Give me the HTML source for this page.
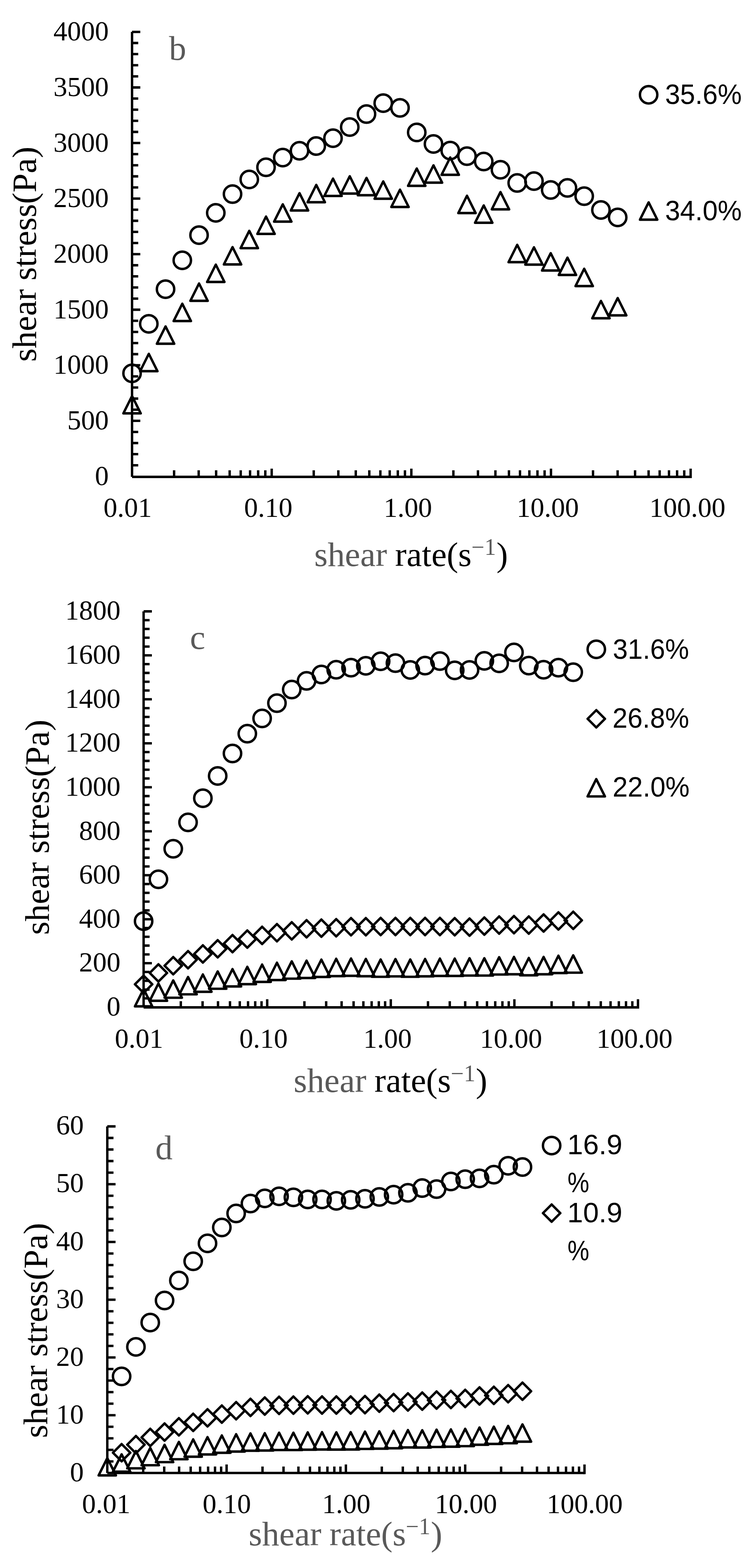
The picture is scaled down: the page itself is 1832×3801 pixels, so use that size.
<!DOCTYPE html>
<html><head><meta charset="utf-8"><title>shear stress vs shear rate</title>
<style>html,body{margin:0;padding:0;background:#fff;}svg{display:block;}</style></head>
<body>
<svg width="1832" height="3801" viewBox="0 0 1832 3801"><g fill="none" stroke="#000" stroke-width="5.8"><path d="M320 77.3V1156M320 1156H1673.6" /><path d="M320 1127.86h15M320 1100.92h15M320 1073.99h15M320 1047.05h15M320 1020.11h20M320 993.17h15M320 966.24h15M320 939.3h15M320 912.36h15M320 885.42h20M320 858.49h15M320 831.55h15M320 804.61h15M320 777.67h15M320 750.74h20M320 723.8h15M320 696.86h15M320 669.92h15M320 642.99h15M320 616.05h20M320 589.11h15M320 562.17h15M320 535.24h15M320 508.3h15M320 481.36h20M320 454.43h15M320 427.49h15M320 400.55h15M320 373.61h15M320 346.68h20M320 319.74h15M320 292.8h15M320 265.86h15M320 238.93h15M320 211.99h20M320 185.05h15M320 158.11h15M320 131.18h15M320 104.24h15M320 77.3h20M421.87 1156v-16M481.46 1156v-16M523.74 1156v-16M556.53 1156v-16M583.33 1156v-16M605.98 1156v-16M625.61 1156v-16M642.92 1156v-16M658.4 1156v-20M760.27 1156v-16M819.86 1156v-16M862.14 1156v-16M894.93 1156v-16M921.73 1156v-16M944.38 1156v-16M964.01 1156v-16M981.32 1156v-16M996.8 1156v-20M1098.67 1156v-16M1158.26 1156v-16M1200.54 1156v-16M1233.33 1156v-16M1260.13 1156v-16M1282.78 1156v-16M1302.41 1156v-16M1319.72 1156v-16M1335.2 1156v-20M1437.07 1156v-16M1496.66 1156v-16M1538.94 1156v-16M1571.73 1156v-16M1598.53 1156v-16M1621.18 1156v-16M1640.81 1156v-16M1658.12 1156v-16M1673.6 1158.9v-22.9"/><path d="M348 1482V2442M348 2442H1546" /><path d="M348 2420.18h14.5M348 2398.86h14.5M348 2377.53h14.5M348 2356.21h14.5M348 2334.89h20M348 2313.57h14.5M348 2292.24h14.5M348 2270.92h14.5M348 2249.6h14.5M348 2228.28h20M348 2206.96h14.5M348 2185.63h14.5M348 2164.31h14.5M348 2142.99h14.5M348 2121.67h20M348 2100.34h14.5M348 2079.02h14.5M348 2057.7h14.5M348 2036.38h14.5M348 2015.06h20M348 1993.73h14.5M348 1972.41h14.5M348 1951.09h14.5M348 1929.77h14.5M348 1908.44h20M348 1887.12h14.5M348 1865.8h14.5M348 1844.48h14.5M348 1823.16h14.5M348 1801.83h20M348 1780.51h14.5M348 1759.19h14.5M348 1737.87h14.5M348 1716.54h14.5M348 1695.22h20M348 1673.9h14.5M348 1652.58h14.5M348 1631.26h14.5M348 1609.93h14.5M348 1588.61h20M348 1567.29h14.5M348 1545.97h14.5M348 1524.64h14.5M348 1503.32h14.5M348 1482h20M438.16 2442v-15M490.9 2442v-15M528.32 2442v-15M557.34 2442v-15M581.06 2442v-15M601.11 2442v-15M618.48 2442v-15M633.8 2442v-15M647.5 2442v-19.7M737.66 2442v-15M790.4 2442v-15M827.82 2442v-15M856.84 2442v-15M880.56 2442v-15M900.61 2442v-15M917.98 2442v-15M933.3 2442v-15M947 2442v-19.7M1037.16 2442v-15M1089.9 2442v-15M1127.32 2442v-15M1156.34 2442v-15M1180.06 2442v-15M1200.11 2442v-15M1217.48 2442v-15M1232.8 2442v-15M1246.5 2442v-19.7M1336.66 2442v-15M1389.4 2442v-15M1426.82 2442v-15M1455.84 2442v-15M1479.56 2442v-15M1499.61 2442v-15M1516.98 2442v-15M1532.3 2442v-15M1546 2444.9v-22.6"/><path d="M260 2730.5V3570.7M260 3570.7H1416.4" /><path d="M260 3542.69h15M260 3514.69h15M260 3486.68h15M260 3458.67h15M260 3430.67h20M260 3402.66h15M260 3374.65h15M260 3346.65h15M260 3318.64h15M260 3290.63h20M260 3262.63h15M260 3234.62h15M260 3206.61h15M260 3178.61h15M260 3150.6h20M260 3122.59h15M260 3094.59h15M260 3066.58h15M260 3038.57h15M260 3010.57h20M260 2982.56h15M260 2954.55h15M260 2926.55h15M260 2898.54h15M260 2870.53h20M260 2842.53h15M260 2814.52h15M260 2786.51h15M260 2758.51h15M260 2730.5h20M347.03 3570.7v-15.8M397.94 3570.7v-15.8M434.06 3570.7v-15.8M462.07 3570.7v-15.8M484.96 3570.7v-15.8M504.32 3570.7v-15.8M521.08 3570.7v-15.8M535.87 3570.7v-15.8M549.1 3570.7v-20.8M636.13 3570.7v-15.8M687.04 3570.7v-15.8M723.16 3570.7v-15.8M751.17 3570.7v-15.8M774.06 3570.7v-15.8M793.42 3570.7v-15.8M810.18 3570.7v-15.8M824.97 3570.7v-15.8M838.2 3570.7v-20.8M925.23 3570.7v-15.8M976.14 3570.7v-15.8M1012.26 3570.7v-15.8M1040.27 3570.7v-15.8M1063.16 3570.7v-15.8M1082.52 3570.7v-15.8M1099.28 3570.7v-15.8M1114.07 3570.7v-15.8M1127.3 3570.7v-20.8M1214.33 3570.7v-15.8M1265.24 3570.7v-15.8M1301.36 3570.7v-15.8M1329.37 3570.7v-15.8M1352.26 3570.7v-15.8M1371.62 3570.7v-15.8M1388.38 3570.7v-15.8M1403.17 3570.7v-15.8M1416.4 3573.6v-23.7"/></g>
<g fill="none" stroke="#000" stroke-width="5.9" stroke-linejoin="round"><circle cx="320" cy="905" r="21.05"/><circle cx="360.58" cy="785" r="21.05"/><circle cx="401.16" cy="701" r="21.05"/><circle cx="441.74" cy="631" r="21.05"/><circle cx="482.32" cy="570" r="21.05"/><circle cx="522.9" cy="516" r="21.05"/><circle cx="563.48" cy="470.5" r="21.05"/><circle cx="604.06" cy="435" r="21.05"/><circle cx="644.64" cy="405.5" r="21.05"/><circle cx="685.22" cy="382" r="21.05"/><circle cx="725.8" cy="365.5" r="21.05"/><circle cx="766.38" cy="354" r="21.05"/><circle cx="806.96" cy="335" r="21.05"/><circle cx="847.54" cy="308" r="21.05"/><circle cx="888.12" cy="276.5" r="21.05"/><circle cx="928.7" cy="250" r="21.05"/><circle cx="969.28" cy="261.5" r="21.05"/><circle cx="1009.86" cy="321" r="21.05"/><circle cx="1050.44" cy="349" r="21.05"/><circle cx="1091.02" cy="365" r="21.05"/><circle cx="1131.6" cy="378.5" r="21.05"/><circle cx="1172.18" cy="391.5" r="21.05"/><circle cx="1212.76" cy="411.5" r="21.05"/><circle cx="1253.34" cy="443.5" r="21.05"/><circle cx="1293.92" cy="439" r="21.05"/><circle cx="1334.5" cy="460.5" r="21.05"/><circle cx="1375.08" cy="455.5" r="21.05"/><circle cx="1415.66" cy="475.5" r="21.05"/><circle cx="1456.24" cy="509" r="21.05"/><circle cx="1496.82" cy="527" r="21.05"/><path d="M320 960L341 1002H299Z"/><path d="M360.58 857.75L381.58 899.75H339.58Z"/><path d="M401.16 791.25L422.16 833.25H380.16Z"/><path d="M441.74 736.25L462.74 778.25H420.74Z"/><path d="M482.32 687.25L503.32 729.25H461.32Z"/><path d="M522.9 641.5L543.9 683.5H501.9Z"/><path d="M563.48 599L584.48 641H542.48Z"/><path d="M604.06 559.6L625.06 601.6H583.06Z"/><path d="M644.64 525L665.64 567H623.64Z"/><path d="M685.22 495.25L706.22 537.25H664.22Z"/><path d="M725.8 468.25L746.8 510.25H704.8Z"/><path d="M766.38 448.25L787.38 490.25H745.38Z"/><path d="M806.96 433L827.96 475H785.96Z"/><path d="M847.54 427.25L868.54 469.25H826.54Z"/><path d="M888.12 431.25L909.12 473.25H867.12Z"/><path d="M928.7 439.75L949.7 481.75H907.7Z"/><path d="M969.28 459.75L990.28 501.75H948.28Z"/><path d="M1009.86 408.5L1030.86 450.5H988.86Z"/><path d="M1050.44 400.75L1071.44 442.75H1029.44Z"/><path d="M1091.02 381.75L1112.02 423.75H1070.02Z"/><path d="M1131.6 474.5L1152.6 516.5H1110.6Z"/><path d="M1172.18 498L1193.18 540H1151.18Z"/><path d="M1212.76 465.5L1233.76 507.5H1191.76Z"/><path d="M1253.34 593.5L1274.34 635.5H1232.34Z"/><path d="M1293.92 599.5L1314.92 641.5H1272.92Z"/><path d="M1334.5 613.75L1355.5 655.75H1313.5Z"/><path d="M1375.08 624.5L1396.08 666.5H1354.08Z"/><path d="M1415.66 651.5L1436.66 693.5H1394.66Z"/><path d="M1456.24 729.5L1477.24 771.5H1435.24Z"/><path d="M1496.82 722.5L1517.82 764.5H1475.82Z"/><circle cx="348" cy="2233" r="21.05"/><circle cx="383.9" cy="2131.5" r="21.05"/><circle cx="419.8" cy="2057.5" r="21.05"/><circle cx="455.7" cy="1993.5" r="21.05"/><circle cx="491.6" cy="1935" r="21.05"/><circle cx="527.5" cy="1881" r="21.05"/><circle cx="563.4" cy="1826.5" r="21.05"/><circle cx="599.3" cy="1778.5" r="21.05"/><circle cx="635.2" cy="1741.5" r="21.05"/><circle cx="671.1" cy="1704.5" r="21.05"/><circle cx="707" cy="1671.5" r="21.05"/><circle cx="742.9" cy="1650.5" r="21.05"/><circle cx="778.8" cy="1635" r="21.05"/><circle cx="814.7" cy="1623.5" r="21.05"/><circle cx="850.6" cy="1618.5" r="21.05"/><circle cx="886.5" cy="1614" r="21.05"/><circle cx="922.4" cy="1603" r="21.05"/><circle cx="958.3" cy="1607.5" r="21.05"/><circle cx="994.2" cy="1624" r="21.05"/><circle cx="1030.1" cy="1613.5" r="21.05"/><circle cx="1066" cy="1602.5" r="21.05"/><circle cx="1101.9" cy="1625" r="21.05"/><circle cx="1137.8" cy="1624" r="21.05"/><circle cx="1173.7" cy="1602" r="21.05"/><circle cx="1209.6" cy="1608" r="21.05"/><circle cx="1245.5" cy="1581.5" r="21.05"/><circle cx="1281.4" cy="1613.5" r="21.05"/><circle cx="1317.3" cy="1623.5" r="21.05"/><circle cx="1353.2" cy="1618.5" r="21.05"/><circle cx="1389.1" cy="1629.5" r="21.05"/><path d="M348 2365L369 2386L348 2407L327 2386Z"/><path d="M383.9 2337.5L404.9 2358.5L383.9 2379.5L362.9 2358.5Z"/><path d="M419.8 2320L440.8 2341L419.8 2362L398.8 2341Z"/><path d="M455.7 2305.5L476.7 2326.5L455.7 2347.5L434.7 2326.5Z"/><path d="M491.6 2291.5L512.6 2312.5L491.6 2333.5L470.6 2312.5Z"/><path d="M527.5 2279L548.5 2300L527.5 2321L506.5 2300Z"/><path d="M563.4 2266.5L584.4 2287.5L563.4 2308.5L542.4 2287.5Z"/><path d="M599.3 2255.5L620.3 2276.5L599.3 2297.5L578.3 2276.5Z"/><path d="M635.2 2246.5L656.2 2267.5L635.2 2288.5L614.2 2267.5Z"/><path d="M671.1 2240L692.1 2261L671.1 2282L650.1 2261Z"/><path d="M707 2235.5L728 2256.5L707 2277.5L686 2256.5Z"/><path d="M742.9 2230.5L763.9 2251.5L742.9 2272.5L721.9 2251.5Z"/><path d="M778.8 2229L799.8 2250L778.8 2271L757.8 2250Z"/><path d="M814.7 2228L835.7 2249L814.7 2270L793.7 2249Z"/><path d="M850.6 2225.5L871.6 2246.5L850.6 2267.5L829.6 2246.5Z"/><path d="M886.5 2225.5L907.5 2246.5L886.5 2267.5L865.5 2246.5Z"/><path d="M922.4 2225L943.4 2246L922.4 2267L901.4 2246Z"/><path d="M958.3 2225L979.3 2246L958.3 2267L937.3 2246Z"/><path d="M994.2 2225L1015.2 2246L994.2 2267L973.2 2246Z"/><path d="M1030.1 2225L1051.1 2246L1030.1 2267L1009.1 2246Z"/><path d="M1066 2225L1087 2246L1066 2267L1045 2246Z"/><path d="M1101.9 2225.5L1122.9 2246.5L1101.9 2267.5L1080.9 2246.5Z"/><path d="M1137.8 2226.5L1158.8 2247.5L1137.8 2268.5L1116.8 2247.5Z"/><path d="M1173.7 2224L1194.7 2245L1173.7 2266L1152.7 2245Z"/><path d="M1209.6 2221.5L1230.6 2242.5L1209.6 2263.5L1188.6 2242.5Z"/><path d="M1245.5 2220.5L1266.5 2241.5L1245.5 2262.5L1224.5 2241.5Z"/><path d="M1281.4 2221.5L1302.4 2242.5L1281.4 2263.5L1260.4 2242.5Z"/><path d="M1317.3 2216.5L1338.3 2237.5L1317.3 2258.5L1296.3 2237.5Z"/><path d="M1353.2 2211.5L1374.2 2232.5L1353.2 2253.5L1332.2 2232.5Z"/><path d="M1389.1 2210L1410.1 2231L1389.1 2252L1368.1 2231Z"/><path d="M348 2397.5L369 2439.5H327Z"/><path d="M383.9 2384L404.9 2426H362.9Z"/><path d="M419.8 2376.6L440.8 2418.6H398.8Z"/><path d="M455.7 2368.4L476.7 2410.4H434.7Z"/><path d="M491.6 2362.2L512.6 2404.2H470.6Z"/><path d="M527.5 2354.9L548.5 2396.9H506.5Z"/><path d="M563.4 2349.2L584.4 2391.2H542.4Z"/><path d="M599.3 2343.7L620.3 2385.7H578.3Z"/><path d="M635.2 2338.2L656.2 2380.2H614.2Z"/><path d="M671.1 2333.7L692.1 2375.7H650.1Z"/><path d="M707 2330.4L728 2372.4H686Z"/><path d="M742.9 2328.7L763.9 2370.7H721.9Z"/><path d="M778.8 2326.2L799.8 2368.2H757.8Z"/><path d="M814.7 2324.2L835.7 2366.2H793.7Z"/><path d="M850.6 2323.5L871.6 2365.5H829.6Z"/><path d="M886.5 2324.5L907.5 2366.5H865.5Z"/><path d="M922.4 2325.9L943.4 2367.9H901.4Z"/><path d="M958.3 2324.9L979.3 2366.9H937.3Z"/><path d="M994.2 2325.9L1015.2 2367.9H973.2Z"/><path d="M1030.1 2324.7L1051.1 2366.7H1009.1Z"/><path d="M1066 2323.7L1087 2365.7H1045Z"/><path d="M1101.9 2323.7L1122.9 2365.7H1080.9Z"/><path d="M1137.8 2322.9L1158.8 2364.9H1116.8Z"/><path d="M1173.7 2322.9L1194.7 2364.9H1152.7Z"/><path d="M1209.6 2320.4L1230.6 2362.4H1188.6Z"/><path d="M1245.5 2319.7L1266.5 2361.7H1224.5Z"/><path d="M1281.4 2322.2L1302.4 2364.2H1260.4Z"/><path d="M1317.3 2319.7L1338.3 2361.7H1296.3Z"/><path d="M1353.2 2316.7L1374.2 2358.7H1332.2Z"/><path d="M1389.1 2315.9L1410.1 2357.9H1368.1Z"/><circle cx="294.69" cy="3336.5" r="21.05"/><circle cx="329.38" cy="3265" r="21.05"/><circle cx="364.08" cy="3206" r="21.05"/><circle cx="398.77" cy="3152.5" r="21.05"/><circle cx="433.46" cy="3104" r="21.05"/><circle cx="468.15" cy="3057.5" r="21.05"/><circle cx="502.84" cy="3014" r="21.05"/><circle cx="537.54" cy="2975.5" r="21.05"/><circle cx="572.23" cy="2941.5" r="21.05"/><circle cx="606.92" cy="2917.5" r="21.05"/><circle cx="641.61" cy="2905" r="21.05"/><circle cx="676.3" cy="2900" r="21.05"/><circle cx="711" cy="2902.5" r="21.05"/><circle cx="745.69" cy="2907.5" r="21.05"/><circle cx="780.38" cy="2907.5" r="21.05"/><circle cx="815.07" cy="2911" r="21.05"/><circle cx="849.76" cy="2908.5" r="21.05"/><circle cx="884.46" cy="2906" r="21.05"/><circle cx="919.15" cy="2901.5" r="21.05"/><circle cx="953.84" cy="2896" r="21.05"/><circle cx="988.53" cy="2891.5" r="21.05"/><circle cx="1023.22" cy="2880" r="21.05"/><circle cx="1057.92" cy="2882.5" r="21.05"/><circle cx="1092.61" cy="2864" r="21.05"/><circle cx="1127.3" cy="2858.5" r="21.05"/><circle cx="1161.99" cy="2856.5" r="21.05"/><circle cx="1196.68" cy="2847.5" r="21.05"/><circle cx="1231.38" cy="2826" r="21.05"/><circle cx="1266.07" cy="2829" r="21.05"/><path d="M294.69 3500.5L315.69 3521.5L294.69 3542.5L273.69 3521.5Z"/><path d="M329.38 3481L350.38 3502L329.38 3523L308.38 3502Z"/><path d="M364.08 3463.5L385.08 3484.5L364.08 3505.5L343.08 3484.5Z"/><path d="M398.77 3450.5L419.77 3471.5L398.77 3492.5L377.77 3471.5Z"/><path d="M433.46 3437.75L454.46 3458.75L433.46 3479.75L412.46 3458.75Z"/><path d="M468.15 3427L489.15 3448L468.15 3469L447.15 3448Z"/><path d="M502.84 3416L523.84 3437L502.84 3458L481.84 3437Z"/><path d="M537.54 3407L558.54 3428L537.54 3449L516.54 3428Z"/><path d="M572.23 3398.75L593.23 3419.75L572.23 3440.75L551.23 3419.75Z"/><path d="M606.92 3390.75L627.92 3411.75L606.92 3432.75L585.92 3411.75Z"/><path d="M641.61 3387.5L662.61 3408.5L641.61 3429.5L620.61 3408.5Z"/><path d="M676.3 3385.75L697.3 3406.75L676.3 3427.75L655.3 3406.75Z"/><path d="M711 3385.25L732 3406.25L711 3427.25L690 3406.25Z"/><path d="M745.69 3384.5L766.69 3405.5L745.69 3426.5L724.69 3405.5Z"/><path d="M780.38 3385L801.38 3406L780.38 3427L759.38 3406Z"/><path d="M815.07 3385L836.07 3406L815.07 3427L794.07 3406Z"/><path d="M849.76 3385L870.76 3406L849.76 3427L828.76 3406Z"/><path d="M884.46 3384L905.46 3405L884.46 3426L863.46 3405Z"/><path d="M919.15 3380.5L940.15 3401.5L919.15 3422.5L898.15 3401.5Z"/><path d="M953.84 3379L974.84 3400L953.84 3421L932.84 3400Z"/><path d="M988.53 3377.5L1009.53 3398.5L988.53 3419.5L967.53 3398.5Z"/><path d="M1023.22 3375.5L1044.22 3396.5L1023.22 3417.5L1002.22 3396.5Z"/><path d="M1057.92 3373L1078.92 3394L1057.92 3415L1036.92 3394Z"/><path d="M1092.61 3371.5L1113.61 3392.5L1092.61 3413.5L1071.61 3392.5Z"/><path d="M1127.3 3369L1148.3 3390L1127.3 3411L1106.3 3390Z"/><path d="M1161.99 3363L1182.99 3384L1161.99 3405L1140.99 3384Z"/><path d="M1196.68 3361.5L1217.68 3382.5L1196.68 3403.5L1175.68 3382.5Z"/><path d="M1231.38 3357.5L1252.38 3378.5L1231.38 3399.5L1210.38 3378.5Z"/><path d="M1266.07 3351.5L1287.07 3372.5L1266.07 3393.5L1245.07 3372.5Z"/><path d="M260 3534.5L281 3576.5H239Z"/><path d="M294.69 3525.4L315.69 3567.4H273.69Z"/><path d="M329.38 3517.4L350.38 3559.4H308.38Z"/><path d="M364.08 3509.9L385.08 3551.9H343.08Z"/><path d="M398.77 3502.4L419.77 3544.4H377.77Z"/><path d="M433.46 3495.4L454.46 3537.4H412.46Z"/><path d="M468.15 3489.2L489.15 3531.2H447.15Z"/><path d="M502.84 3483.7L523.84 3525.7H481.84Z"/><path d="M537.54 3479.7L558.54 3521.7H516.54Z"/><path d="M572.23 3476.7L593.23 3518.7H551.23Z"/><path d="M606.92 3474.7L627.92 3516.7H585.92Z"/><path d="M641.61 3474.2L662.61 3516.2H620.61Z"/><path d="M676.3 3473L697.3 3515H655.3Z"/><path d="M711 3473L732 3515H690Z"/><path d="M745.69 3472.2L766.69 3514.2H724.69Z"/><path d="M780.38 3471.7L801.38 3513.7H759.38Z"/><path d="M815.07 3472L836.07 3514H794.07Z"/><path d="M849.76 3471.7L870.76 3513.7H828.76Z"/><path d="M884.46 3470.4L905.46 3512.4H863.46Z"/><path d="M919.15 3469.7L940.15 3511.7H898.15Z"/><path d="M953.84 3468.7L974.84 3510.7H932.84Z"/><path d="M988.53 3466.7L1009.53 3508.7H967.53Z"/><path d="M1023.22 3467L1044.22 3509H1002.22Z"/><path d="M1057.92 3465.6L1078.92 3507.6H1036.92Z"/><path d="M1092.61 3465L1113.61 3507H1071.61Z"/><path d="M1127.3 3463.6L1148.3 3505.6H1106.3Z"/><path d="M1161.99 3460.3L1182.99 3502.3H1140.99Z"/><path d="M1196.68 3458.3L1217.68 3500.3H1175.68Z"/><path d="M1231.38 3456.6L1252.38 3498.6H1210.38Z"/><path d="M1266.07 3452.8L1287.07 3494.8H1245.07Z"/><circle cx="1571.8" cy="229.8" r="21.05"/><path d="M1571.8 490.5L1592.8 532.5H1550.8Z"/><circle cx="1445" cy="1574" r="21.05"/><path d="M1445 1721.5L1466 1742.5L1445 1763.5L1424 1742.5Z"/><path d="M1444.9 1888.6L1465.9 1930.6H1423.9Z"/><circle cx="1336.75" cy="2777" r="21.05"/><path d="M1336.75 2919.75L1357.75 2940.75L1336.75 2961.75L1315.75 2940.75Z"/></g>
<text x="230.05" y="1175.75" font-family='"Liberation Serif",serif' font-size="67" fill="#000">0</text>
<text x="163.05" y="1041.06" font-family='"Liberation Serif",serif' font-size="67" fill="#000">500</text>
<text x="129.55" y="906.38" font-family='"Liberation Serif",serif' font-size="67" fill="#000">1000</text>
<text x="129.55" y="771.69" font-family='"Liberation Serif",serif' font-size="67" fill="#000">1500</text>
<text x="129.55" y="637" font-family='"Liberation Serif",serif' font-size="67" fill="#000">2000</text>
<text x="129.55" y="502.31" font-family='"Liberation Serif",serif' font-size="67" fill="#000">2500</text>
<text x="129.55" y="367.63" font-family='"Liberation Serif",serif' font-size="67" fill="#000">3000</text>
<text x="129.55" y="232.94" font-family='"Liberation Serif",serif' font-size="67" fill="#000">3500</text>
<text x="129.55" y="98.25" font-family='"Liberation Serif",serif' font-size="67" fill="#000">4000</text>
<text x="250.86" y="1253.2" font-family='"Liberation Serif",serif' font-size="67" fill="#000">0.01</text>
<text x="591.38" y="1253.2" font-family='"Liberation Serif",serif' font-size="67" fill="#000">0.10</text>
<text x="929.71" y="1253.2" font-family='"Liberation Serif",serif' font-size="67" fill="#000">1.00</text>
<text x="1251.96" y="1253.2" font-family='"Liberation Serif",serif' font-size="67" fill="#000">10.00</text>
<text x="1573.71" y="1253.2" font-family='"Liberation Serif",serif' font-size="67" fill="#000">100.00</text>
<text x="258.45" y="2461.95" font-family='"Liberation Serif",serif' font-size="67" fill="#000">0</text>
<text x="191.45" y="2355.34" font-family='"Liberation Serif",serif' font-size="67" fill="#000">200</text>
<text x="191.45" y="2248.73" font-family='"Liberation Serif",serif' font-size="67" fill="#000">400</text>
<text x="191.45" y="2142.12" font-family='"Liberation Serif",serif' font-size="67" fill="#000">600</text>
<text x="191.45" y="2035.51" font-family='"Liberation Serif",serif' font-size="67" fill="#000">800</text>
<text x="157.95" y="1928.9" font-family='"Liberation Serif",serif' font-size="67" fill="#000">1000</text>
<text x="157.95" y="1822.28" font-family='"Liberation Serif",serif' font-size="67" fill="#000">1200</text>
<text x="157.95" y="1715.67" font-family='"Liberation Serif",serif' font-size="67" fill="#000">1400</text>
<text x="157.95" y="1609.06" font-family='"Liberation Serif",serif' font-size="67" fill="#000">1600</text>
<text x="157.95" y="1502.45" font-family='"Liberation Serif",serif' font-size="67" fill="#000">1800</text>
<text x="278.36" y="2540.2" font-family='"Liberation Serif",serif' font-size="67" fill="#000">0.01</text>
<text x="580.12" y="2540.2" font-family='"Liberation Serif",serif' font-size="67" fill="#000">0.10</text>
<text x="880.46" y="2540.2" font-family='"Liberation Serif",serif' font-size="67" fill="#000">1.00</text>
<text x="1162.96" y="2540.2" font-family='"Liberation Serif",serif' font-size="67" fill="#000">10.00</text>
<text x="1445.46" y="2540.2" font-family='"Liberation Serif",serif' font-size="67" fill="#000">100.00</text>
<text x="169.55" y="3590.65" font-family='"Liberation Serif",serif' font-size="67" fill="#000">0</text>
<text x="136.05" y="3450.62" font-family='"Liberation Serif",serif' font-size="67" fill="#000">10</text>
<text x="136.05" y="3310.58" font-family='"Liberation Serif",serif' font-size="67" fill="#000">20</text>
<text x="136.05" y="3170.55" font-family='"Liberation Serif",serif' font-size="67" fill="#000">30</text>
<text x="136.05" y="3030.52" font-family='"Liberation Serif",serif' font-size="67" fill="#000">40</text>
<text x="136.05" y="2890.48" font-family='"Liberation Serif",serif' font-size="67" fill="#000">50</text>
<text x="136.05" y="2750.45" font-family='"Liberation Serif",serif' font-size="67" fill="#000">60</text>
<text x="198.86" y="3668.2" font-family='"Liberation Serif",serif' font-size="67" fill="#000">0.01</text>
<text x="490.88" y="3668.2" font-family='"Liberation Serif",serif' font-size="67" fill="#000">0.10</text>
<text x="780.46" y="3668.2" font-family='"Liberation Serif",serif' font-size="67" fill="#000">1.00</text>
<text x="1053.71" y="3668.2" font-family='"Liberation Serif",serif' font-size="67" fill="#000">10.00</text>
<text x="1324.71" y="3668.2" font-family='"Liberation Serif",serif' font-size="67" fill="#000">100.00</text>
<text transform="translate(87 877.12) rotate(-90)" font-family='"Liberation Serif",serif' font-size="83.5" fill="#000">shear stress(Pa)</text>
<text transform="translate(118.4 2266.22) rotate(-90)" font-family='"Liberation Serif",serif' font-size="83.5" fill="#000">shear stress(Pa)</text>
<text transform="translate(113.5 3486.12) rotate(-90)" font-family='"Liberation Serif",serif' font-size="83.5" fill="#000">shear stress(Pa)</text>
<text x="761.58" y="1371.5" font-family='"Liberation Serif",serif' font-size="83.5" fill="#595959">shear</text><text x="957.33" y="1371.5" font-family='"Liberation Serif",serif' font-size="83.5" fill="#000">rate(s</text><text x="1142.31" y="1345" font-family='"Liberation Serif",serif' font-size="56" fill="#595959">−1</text><text x="1202.91" y="1371.5" font-family='"Liberation Serif",serif' font-size="83.5" fill="#000">)</text>
<text x="711.58" y="2647" font-family='"Liberation Serif",serif' font-size="83.5" fill="#595959">shear</text><text x="907.33" y="2647" font-family='"Liberation Serif",serif' font-size="83.5" fill="#000">rate(s</text><text x="1092.31" y="2620.5" font-family='"Liberation Serif",serif' font-size="56" fill="#595959">−1</text><text x="1152.91" y="2647" font-family='"Liberation Serif",serif' font-size="83.5" fill="#000">)</text>
<text x="602.58" y="3745.5" font-family='"Liberation Serif",serif' font-size="83.5" fill="#595959">shear</text><text x="798.33" y="3745.5" font-family='"Liberation Serif",serif' font-size="83.5" fill="#595959">rate(s</text><text x="983.31" y="3719" font-family='"Liberation Serif",serif' font-size="56" fill="#595959">−1</text><text x="1043.91" y="3745.5" font-family='"Liberation Serif",serif' font-size="83.5" fill="#595959">)</text>
<text x="409.4" y="145.3" font-family='"Liberation Serif",serif' font-size="83.5" fill="#595959">b</text>
<text x="460.32" y="1573.2" font-family='"Liberation Serif",serif' font-size="83.5" fill="#595959">c</text>
<text x="376.48" y="2810.2" font-family='"Liberation Serif",serif' font-size="83.5" fill="#595959">d</text>
<text transform="scale(0.9493 1)" x="1697.76" y="252.3" font-family='"Liberation Sans",sans-serif' font-size="69" fill="#000">35.6%</text>
<text transform="scale(0.9493 1)" x="1697.76" y="533.9" font-family='"Liberation Sans",sans-serif' font-size="69" fill="#000">34.0%</text>
<text transform="scale(0.9446 1)" x="1572.13" y="1596.8" font-family='"Liberation Sans",sans-serif' font-size="69" fill="#000">31.6%</text>
<text transform="scale(0.9488 1)" x="1564.32" y="1764.3" font-family='"Liberation Sans",sans-serif' font-size="69" fill="#000">26.8%</text>
<text transform="scale(0.9541 1)" x="1555.87" y="1931.3" font-family='"Liberation Sans",sans-serif' font-size="69" fill="#000">22.0%</text>
<text transform="scale(0.9939 1)" x="1383.25" y="2797.8" font-family='"Liberation Sans",sans-serif' font-size="69" fill="#000">16.9</text>
<text transform="scale(0.8594 1)" x="1600.36" y="2890.3" font-family='"Liberation Sans",sans-serif' font-size="69" fill="#000">%</text>
<text transform="scale(0.9939 1)" x="1383.25" y="2963.3" font-family='"Liberation Sans",sans-serif' font-size="69" fill="#000">10.9</text>
<text transform="scale(0.8594 1)" x="1600.36" y="3055.3" font-family='"Liberation Sans",sans-serif' font-size="69" fill="#000">%</text></svg>
</body></html>
